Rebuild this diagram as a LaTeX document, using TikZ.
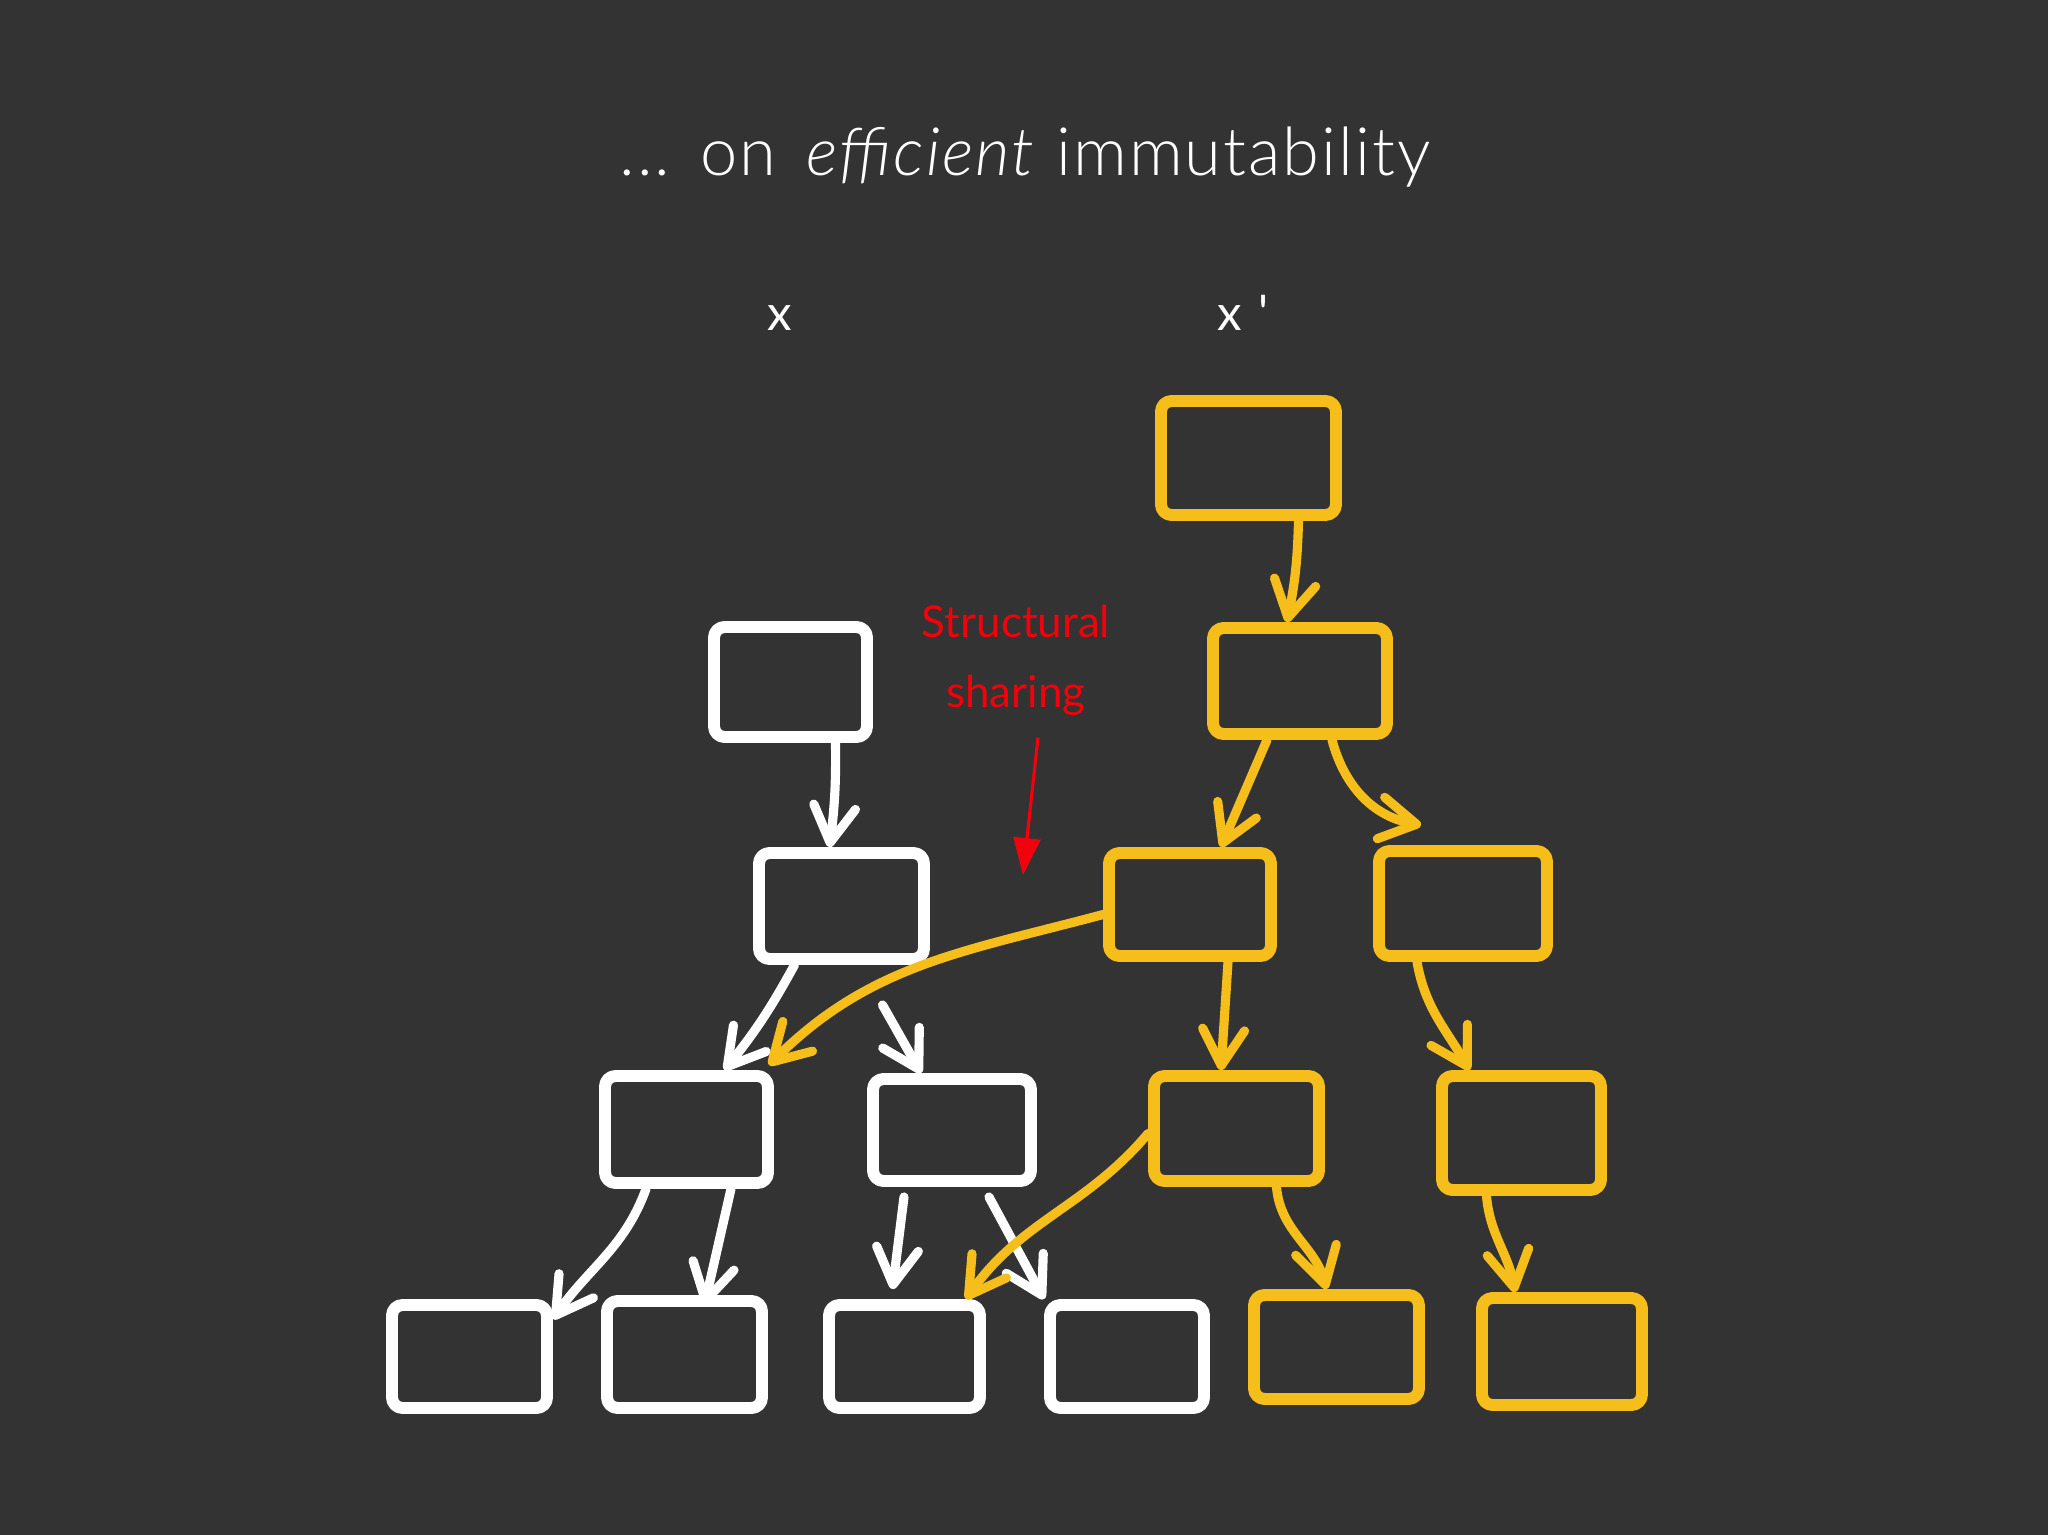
\documentclass[tikz,border=0pt]{standalone}
\usepackage{fontspec}
\setmainfont{Lato}
\newfontfamily\thinfont{Lato Light}[ItalicFont={Lato Light Italic},LetterSpace=3]
\usetikzlibrary{arrows.meta}
\definecolor{bg}{HTML}{333333}
\definecolor{gold}{HTML}{F6BE1B}
\definecolor{redtxt}{HTML}{F2000B}
\begin{document}
\begin{tikzpicture}[
  wbox/.style={draw=white, line width=3.4pt, rectangle, inner sep=0pt,
    rounded corners=3pt, line join=round},
  ybox/.style={wbox, draw=gold},
  sz/.style 2 args={minimum width=#1cm, minimum height=#2cm},
  warr/.style={draw=white, line width=2.6pt, line cap=round,
    -{Straight Barb[length=3.6mm,width=4.2mm,round]}},
  yarr/.style={warr, draw=gold},
  redarr/.style={draw=redtxt, line width=0.9pt, -{Triangle[length=3.7mm,width=2.7mm]}},
  lbl/.style={text=white, font=\fontsize{14}{16}\selectfont, anchor=base},
  redlbl/.style={text=redtxt, font=\fontsize{12.5}{15}\selectfont, anchor=base}
]
\fill[bg] (0,0) rectangle (20.48,-15.35);
\useasboundingbox (0,0) rectangle (20.48,-15.35);

% texts
\node[text=white, font=\thinfont\fontsize{19}{22}\selectfont, anchor=base] (title) at (10.25,-1.75) {...\hspace{0.45em}on\hspace{0.45em}\textit{efficient} immutability};
\node[lbl] (x) at (7.80,-3.30) {x};
\node[lbl] (xp) at (12.43,-3.30) {x\hspace{0.35em}\textquotesingle};
\node[redlbl] (s1) at (10.16,-6.37) {Structural};
\node[redlbl] (s2) at (10.16,-7.07) {sharing};
\coordinate (ssend) at (10.23,-8.75);

% boxes
\node[ybox, sz={1.75}{1.14}] (y1) at (12.485,-4.58) {};
\node[wbox, sz={1.53}{1.10}] (w1) at (7.905,-6.82) {};
\node[ybox, sz={1.74}{1.06}] (y2) at (13.00,-6.81) {};
\node[wbox, sz={1.65}{1.06}] (w2) at (8.415,-9.06) {};
\node[ybox, sz={1.62}{1.03}] (y3) at (11.90,-9.045) {};
\node[ybox, sz={1.68}{1.05}] (y4) at (14.63,-9.035) {};
\node[wbox, sz={1.63}{1.07}] (w3) at (6.865,-11.295) {};
\node[wbox, sz={1.58}{1.02}] (w4) at (9.52,-11.30) {};
\node[ybox, sz={1.65}{1.05}] (y5) at (12.365,-11.285) {};
\node[ybox, sz={1.59}{1.14}] (y6) at (15.215,-11.33) {};
\node[wbox, sz={1.55}{1.03}] (w5) at (4.695,-13.565) {};
\node[wbox, sz={1.55}{1.07}] (w6) at (6.845,-13.545) {};
\node[wbox, sz={1.51}{1.03}] (w7) at (9.045,-13.565) {};
\node[wbox, sz={1.54}{1.03}] (w8) at (11.27,-13.565) {};
\node[ybox, sz={1.65}{1.04}] (y7) at (13.365,-13.47) {};
\node[ybox, sz={1.60}{1.07}] (y8) at (15.62,-13.515) {};

% white connectors
\draw[warr] ([xshift=0.45cm]w1.south) to[bend left=4] ([xshift=-0.12cm]w2.north);
\draw[warr] ([xshift=-0.47cm]w2.south) to[bend left=5] ([xshift=0.38cm]w3.north);
\draw[warr] ([xshift=0.41cm,yshift=-0.4cm]w2.south) -- ([xshift=-0.31cm]w4.north);
\draw[warr] ([xshift=-0.405cm]w3.south) to[out=-110,in=55] ([yshift=-0.2cm]w5.north east);
\draw[warr] ([xshift=0.445cm]w3.south) -- ([xshift=0.2cm,yshift=-0.1cm]w6.north);
\draw[warr] ([xshift=-0.48cm,yshift=-0.1cm]w4.south) -- ([xshift=-0.12cm,yshift=0.1cm]w7.north);
\draw[warr] ([xshift=0.37cm,yshift=-0.1cm]w4.south) -- (w8.north west);

% yellow connectors
\draw[yarr] ([xshift=0.5cm]y1.south) to[bend left=5] ([xshift=-0.13cm]y2.north);
\draw[yarr] ([xshift=-0.33cm]y2.south) -- ([xshift=0.31cm]y3.north);
\draw[yarr] ([xshift=0.32cm]y2.south) to[out=-75,in=170] ([xshift=-0.42cm,yshift=0.2cm]y4.north);
\draw[yarr] ([yshift=-0.1cm]y3.west) to[out=195,in=45] ([xshift=-0.05cm,yshift=0.05cm]w3.north east);
\draw[yarr] ([xshift=0.38cm]y3.south) -- ([xshift=-0.155cm]y5.north);
\draw[yarr] ([yshift=-0.05cm]y5.west) to[out=230,in=55] ([xshift=-0.2cm]w7.north east);
\draw[yarr] ([xshift=0.4cm]y5.south) to[out=-85,in=105] ([xshift=-0.1cm]y7.north);
\draw[yarr] ([xshift=-0.46cm]y4.south) to[out=-80,in=120] ([xshift=-0.52cm]y6.north);
\draw[yarr] ([xshift=-0.35cm]y6.south) to[out=-85,in=100] ([xshift=-0.47cm]y8.north);

% red arrow
\draw[redarr] ([xshift=0.22cm,yshift=-0.1cm]s2.south) -- (ssend);
\end{tikzpicture}
\end{document}
